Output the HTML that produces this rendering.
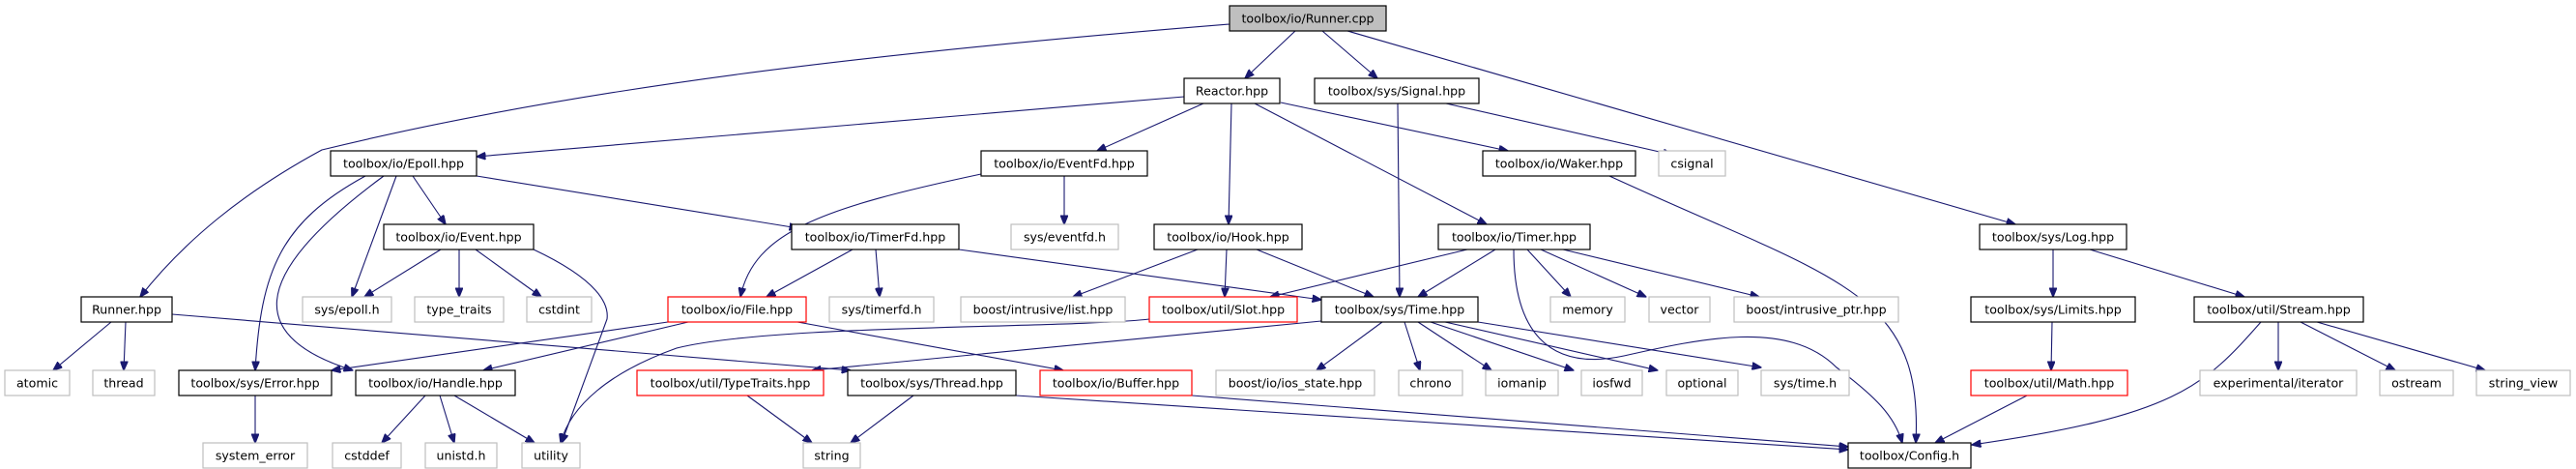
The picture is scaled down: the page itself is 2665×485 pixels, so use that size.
<!DOCTYPE html>
<html><head><meta charset="utf-8"><style>
html,body{margin:0;padding:0;background:#fff}
svg{display:block}
text{font-family:"DejaVu Sans","Liberation Sans",sans-serif;font-size:12.6px;text-anchor:middle;dominant-baseline:central;fill:#000}
.e{fill:none;stroke:#191970;stroke-width:1.1;marker-end:url(#a)}
.b{fill:#fff;stroke:#000;stroke-width:1.2}
.g{fill:#fff;stroke:#bfbfbf;stroke-width:1.2}
.r{fill:#fff;stroke:#ff0000;stroke-width:1.2}
</style></head><body>
<svg width="2665" height="485" viewBox="0 0 2665 485" xmlns="http://www.w3.org/2000/svg">
<defs><marker id="a" markerWidth="10" markerHeight="8" refX="9.5" refY="4" orient="auto" markerUnits="userSpaceOnUse"><path d="M0,0 L10,4 L0,8 Z" fill="#191970" stroke="#191970"/></marker></defs>
<g>
<path class="e" d="M1272,25 C900,55 600,90 333,155 C250,200 190,250 145,307"/>
<path class="e" d="M1340,32 L1288,81"/>
<path class="e" d="M1368,32 L1425,81"/>
<path class="e" d="M1394,32 L2085,232"/>
<path class="e" d="M1225,100 L493,162"/>
<path class="e" d="M1245,107 L1135,156"/>
<path class="e" d="M1274,107 L1271,232"/>
<path class="e" d="M1298,107 L1538,232"/>
<path class="e" d="M1325,106 L1560,156"/>
<path class="e" d="M1446,107 L1448,307"/>
<path class="e" d="M1496,107 L1730,160"/>
<path class="e" d="M1665,182 C1900,290 1990,300 1982,458"/>
<path class="e" d="M427,182 L461,232"/>
<path class="e" d="M493,182 L826,236"/>
<path class="e" d="M410,182 L364,307"/>
<path class="e" d="M378,182 C290,230 270,280 264,383"/>
<path class="e" d="M397,182 C250,290 260,350 365,383"/>
<path class="e" d="M1015,180 C850,215 780,240 766,307"/>
<path class="e" d="M1101,182 L1101,232"/>
<path class="e" d="M456,258 L377,307"/>
<path class="e" d="M475,258 L475,307"/>
<path class="e" d="M492,258 L560,307"/>
<path class="e" d="M552,258 C620,290 630,315 628,330 L581,458"/>
<path class="e" d="M882,258 L793,307"/>
<path class="e" d="M906,258 L910,307"/>
<path class="e" d="M992,258 L1367,310"/>
<path class="e" d="M1239,258 L1110,307"/>
<path class="e" d="M1269,258 L1267,307"/>
<path class="e" d="M1300,258 L1421,307"/>
<path class="e" d="M1518,258 L1314,307"/>
<path class="e" d="M1547,258 L1467,307"/>
<path class="e" d="M1580,258 L1625,307"/>
<path class="e" d="M1594,258 L1703,307"/>
<path class="e" d="M1617,258 L1820,307"/>
<path class="e" d="M1566,258 C1566,340 1600,385 1680,368 C1760,350 1850,330 1900,380 C1940,410 1960,430 1968,458"/>
<path class="e" d="M115,333 L55,383"/>
<path class="e" d="M130,333 L128,383"/>
<path class="e" d="M178,325 L880,383"/>
<path class="e" d="M691,333 L343,383"/>
<path class="e" d="M712,333 L500,383"/>
<path class="e" d="M825,333 L1100,383"/>
<path class="e" d="M1189,330 C1100,340 800,335 700,360 C630,385 590,420 580,458"/>
<path class="e" d="M1367,332 L840,383"/>
<path class="e" d="M1430,333 L1362,383"/>
<path class="e" d="M1453,333 L1469,383"/>
<path class="e" d="M1467,333 L1543,383"/>
<path class="e" d="M1480,333 L1628,383"/>
<path class="e" d="M1495,333 L1715,383"/>
<path class="e" d="M1529,333 L1822,380"/>
<path class="e" d="M264,409 L264,458"/>
<path class="e" d="M440,409 L395,458"/>
<path class="e" d="M455,409 L470,458"/>
<path class="e" d="M470,409 L553,458"/>
<path class="e" d="M773,409 L840,458"/>
<path class="e" d="M945,409 L880,458"/>
<path class="e" d="M1051,409 L1912,465"/>
<path class="e" d="M1233,409 L1912,462"/>
<path class="e" d="M2124,258 L2124,307"/>
<path class="e" d="M2162,258 L2322,307"/>
<path class="e" d="M2123,333 L2122,383"/>
<path class="e" d="M2097,409 L2002,458"/>
<path class="e" d="M2339,333 C2280,400 2250,430 2040,460"/>
<path class="e" d="M2357,333 L2357,383"/>
<path class="e" d="M2380,333 L2478,383"/>
<path class="e" d="M2397,333 L2571,383"/>
</g>
<g>
<rect x="1272" y="6" width="162" height="26" fill="#bfbfbf" stroke="#000" stroke-width="1.2"/><text x="1353" y="19">toolbox/io/Runner.cpp</text>
<rect class="b" x="1225" y="81" width="99" height="26"/><text x="1274.5" y="94">Reactor.hpp</text>
<rect class="b" x="1360" y="81" width="170" height="26"/><text x="1445" y="94">toolbox/sys/Signal.hpp</text>
<rect class="b" x="342" y="156" width="151" height="26"/><text x="417.5" y="169">toolbox/io/Epoll.hpp</text>
<rect class="b" x="1015" y="156" width="172" height="26"/><text x="1101" y="169">toolbox/io/EventFd.hpp</text>
<rect class="b" x="1534" y="156" width="158" height="26"/><text x="1613" y="169">toolbox/io/Waker.hpp</text>
<rect class="g" x="1716" y="156" width="69" height="26"/><text x="1750.5" y="169">csignal</text>
<rect class="b" x="397" y="232" width="155" height="26"/><text x="474.5" y="245">toolbox/io/Event.hpp</text>
<rect class="b" x="819" y="232" width="173" height="26"/><text x="905.5" y="245">toolbox/io/TimerFd.hpp</text>
<rect class="g" x="1046" y="232" width="111" height="26"/><text x="1101.5" y="245">sys/eventfd.h</text>
<rect class="b" x="1194" y="232" width="153" height="26"/><text x="1270.5" y="245">toolbox/io/Hook.hpp</text>
<rect class="b" x="1488" y="232" width="157" height="26"/><text x="1566.5" y="245">toolbox/io/Timer.hpp</text>
<rect class="b" x="2048" y="232" width="152" height="26"/><text x="2124" y="245">toolbox/sys/Log.hpp</text>
<rect class="b" x="84" y="307" width="94" height="26"/><text x="131" y="320">Runner.hpp</text>
<rect class="g" x="313" y="307" width="92" height="26"/><text x="359" y="320">sys/epoll.h</text>
<rect class="g" x="429" y="307" width="92" height="26"/><text x="475" y="320">type_traits</text>
<rect class="g" x="545" y="307" width="67" height="26"/><text x="578.5" y="320">cstdint</text>
<rect class="r" x="691" y="307" width="143" height="26"/><text x="762.5" y="320">toolbox/io/File.hpp</text>
<rect class="g" x="858" y="307" width="108" height="26"/><text x="912" y="320">sys/timerfd.h</text>
<rect class="g" x="994" y="307" width="170" height="26"/><text x="1079" y="320">boost/intrusive/list.hpp</text>
<rect class="r" x="1189" y="307" width="153" height="26"/><text x="1265.5" y="320">toolbox/util/Slot.hpp</text>
<rect class="b" x="1367" y="307" width="162" height="26"/><text x="1448" y="320">toolbox/sys/Time.hpp</text>
<rect class="g" x="1604" y="307" width="77" height="26"/><text x="1642.5" y="320">memory</text>
<rect class="g" x="1706" y="307" width="63" height="26"/><text x="1737.5" y="320">vector</text>
<rect class="g" x="1794" y="307" width="170" height="26"/><text x="1879" y="320">boost/intrusive_ptr.hpp</text>
<rect class="b" x="2039" y="307" width="170" height="26"/><text x="2124" y="320">toolbox/sys/Limits.hpp</text>
<rect class="b" x="2270" y="307" width="175" height="26"/><text x="2357.5" y="320">toolbox/util/Stream.hpp</text>
<rect class="g" x="5" y="383" width="67" height="26"/><text x="38.5" y="396">atomic</text>
<rect class="g" x="96" y="383" width="64" height="26"/><text x="128" y="396">thread</text>
<rect class="b" x="185" y="383" width="158" height="26"/><text x="264" y="396">toolbox/sys/Error.hpp</text>
<rect class="b" x="368" y="383" width="165" height="26"/><text x="450.5" y="396">toolbox/io/Handle.hpp</text>
<rect class="r" x="659" y="383" width="193" height="26"/><text x="755.5" y="396">toolbox/util/TypeTraits.hpp</text>
<rect class="b" x="877" y="383" width="174" height="26"/><text x="964" y="396">toolbox/sys/Thread.hpp</text>
<rect class="r" x="1076" y="383" width="157" height="26"/><text x="1154.5" y="396">toolbox/io/Buffer.hpp</text>
<rect class="g" x="1258" y="383" width="164" height="26"/><text x="1340" y="396">boost/io/ios_state.hpp</text>
<rect class="g" x="1447" y="383" width="66" height="26"/><text x="1480" y="396">chrono</text>
<rect class="g" x="1537" y="383" width="75" height="26"/><text x="1574.5" y="396">iomanip</text>
<rect class="g" x="1636" y="383" width="63" height="26"/><text x="1667.5" y="396">iosfwd</text>
<rect class="g" x="1724" y="383" width="74" height="26"/><text x="1761" y="396">optional</text>
<rect class="g" x="1822" y="383" width="91" height="26"/><text x="1867.5" y="396">sys/time.h</text>
<rect class="r" x="2039" y="383" width="162" height="26"/><text x="2120" y="396">toolbox/util/Math.hpp</text>
<rect class="g" x="2276" y="383" width="162" height="26"/><text x="2357" y="396">experimental/iterator</text>
<rect class="g" x="2462" y="383" width="76" height="26"/><text x="2500" y="396">ostream</text>
<rect class="g" x="2562" y="383" width="97" height="26"/><text x="2610.5" y="396">string_view</text>
<rect class="g" x="210" y="458" width="108" height="26"/><text x="264" y="471">system_error</text>
<rect class="g" x="344" y="458" width="71" height="26"/><text x="379.5" y="471">cstddef</text>
<rect class="g" x="440" y="458" width="74" height="26"/><text x="477" y="471">unistd.h</text>
<rect class="g" x="540" y="458" width="60" height="26"/><text x="570" y="471">utility</text>
<rect class="g" x="831" y="458" width="59" height="26"/><text x="860.5" y="471">string</text>
<rect class="b" x="1912" y="458" width="127" height="26"/><text x="1975.5" y="471">toolbox/Config.h</text>
</g>
</svg>
</body></html>
